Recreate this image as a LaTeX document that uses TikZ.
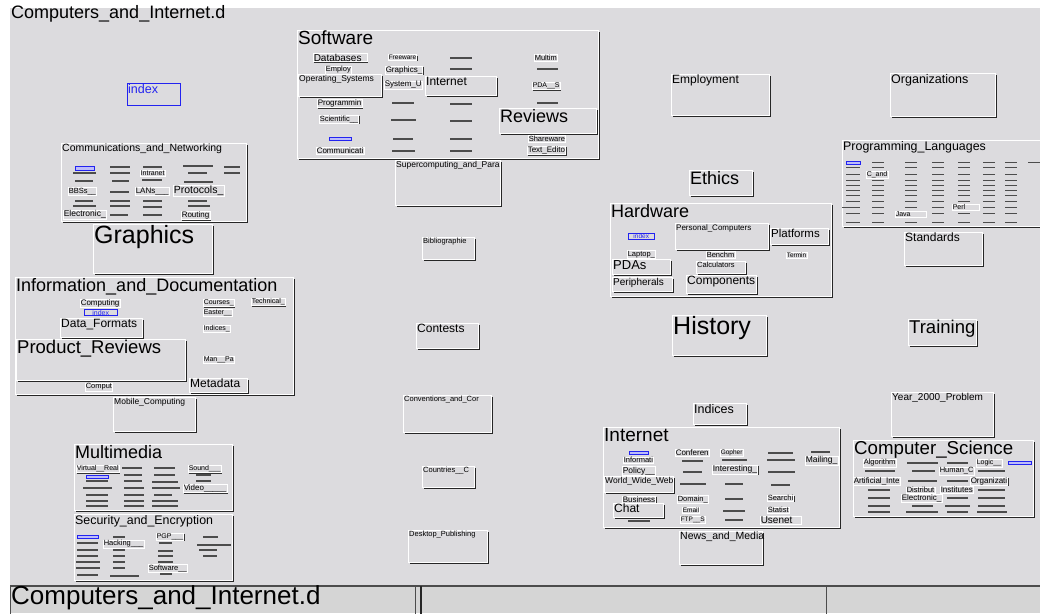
\documentclass[tikz,border=0pt]{standalone}
\usepackage{fontspec}
\setmainfont{Liberation Sans}
\usepackage{xcolor}
\usetikzlibrary{shadows}

\definecolor{deskgray}{RGB}{220,219,222}
\definecolor{bargray}{RGB}{213,213,213}
\definecolor{linkblue}{RGB}{35,35,240}
\newcommand\fsz[1]{\fontsize{#1}{#1}\selectfont}

\begin{document}
\begin{tikzpicture}[x=1pt, y=-1pt,
    panel/.style={rectangle, draw=white, fill=deskgray, line width=0.8pt, inner sep=0pt,
        general shadow={fill=black!85, shadow xshift=1.4pt, shadow yshift=-1.4pt}},
    sz/.style 2 args={minimum width=#1pt, minimum height=#2pt, anchor=north west},
    ttl/.style={anchor=north west, inner sep=1pt, text=black},
    mini/.style={rectangle, anchor=west, draw=white, fill=deskgray, line width=0.5pt, inner sep=0.5pt,
        text=black, font=\fsz{7},
        general shadow={fill=black!80, shadow xshift=0.9pt, shadow yshift=-0.9pt}},
    wd/.style={text width=#1pt},
    bluemini/.style={mini, draw=linkblue, text=linkblue},
    blip/.style={draw=black!70, line width=1.3pt},
    bluebar/.style={draw=linkblue, fill=linkblue!30, line width=0.9pt}]

  \useasboundingbox (0,0) rectangle (1040,613);
  \fill[white] (0,0) rectangle (1040,613);
  \fill[deskgray] (10,8) rectangle (1040,586);
  \node[ttl, font=\fsz{18}] (title) at (10,4) {Computers\_and\_Internet.d};

  % left column
  \node[rectangle, draw=linkblue, line width=1pt, inner sep=0pt, sz={53}{22},
        label={[ttl, text=linkblue, font=\fsz{12.5}]north west:index}] (index) at (127,83) {};

  \node[panel, sz={185}{78}, label={[ttl, font=\fsz{10.5}]north west:Communications\_and\_Networking}] (comms) at (61,143) {};
  \draw[bluebar] (75,166) rectangle (94,170);
  \foreach \xa/\xb/\yy in {73/96/173, 75/93/181, 110/130/167, 110/130/173, 112/129/181,
      143/162/167, 142/162/180, 183/213/166, 188/207/173, 184/213/182, 224/240/167, 224/240/173,
      110/129/192, 75/93/201, 73/96/206, 110/130/201, 110/130/206, 143/162/201, 143/162/207,
      188/207/201, 188/210/206, 110/128/215, 143/162/215}
    \draw[blip] (\xa,\yy) -- (\xb,\yy);
  \node[mini] (intranet) at (140,173) {Intranet};
  \node[mini, font=\fsz{7.5}] (bbss) at (68,191.5) {BBSs\_\_};
  \node[mini, font=\fsz{8}] (lans) at (135,191.5) {LANs\_\_\_};
  \node[mini, font=\fsz{10.5}] (protocols) at (173,190.5) {Protocols\_};
  \node[mini, font=\fsz{8.5}] (electronic) at (63,214.5) {Electronic\_};
  \node[mini, font=\fsz{8}] (routing) at (181,215.5) {Routing};

  \node[panel, sz={119}{49}, label={[ttl, font=\fsz{25}]north west:Graphics}] (graphics) at (93,224) {};

  \node[panel, sz={278}{117}, label={[ttl, font=\fsz{18}]north west:Information\_and\_Documentation}] (infodoc) at (15,277) {};
  \node[mini, font=\fsz{8}] (computing) at (80,303) {Computing};
  \node[bluemini, minimum width=33pt] (infoindex) at (84,312.5) {index};
  \node[panel, sz={82}{19}, label={[ttl, font=\fsz{12}]north west:Data\_Formats}] (dataformats) at (60,318) {};
  \node[panel, sz={169}{41}, label={[ttl, font=\fsz{18.5}]north west:Product\_Reviews}] (prodreviews) at (16,339) {};
  \node[mini, font=\fsz{7.5}] (comput) at (85,387) {Comput};
  \node[mini] (courses) at (203,303) {Courses\_};
  \node[mini] (technical) at (251,302) {Technical\_};
  \node[mini] (easter) at (203,312.5) {Easter\_\_};
  \node[mini] (indicesdoc) at (203,328.5) {Indices\_};
  \node[mini] (manpa) at (203,359.5) {Man\_\_Pa};
  \node[panel, sz={58}{14}, label={[ttl, font=\fsz{12}]north west:Metadata}] (metadata) at (189,378) {};

  \node[panel, sz={82}{34}, label={[ttl, font=\fsz{8.5}]north west:Mobile\_Computing}] (mobile) at (113,397) {};

  \node[panel, sz={158}{66}, label={[ttl, font=\fsz{18}]north west:Multimedia}] (multimedia) at (74,444) {};
  \draw[bluebar] (86,475) rectangle (108,478);
  \foreach \xa/\xb/\yy in {122/142/468, 154/175/468, 86/108/481, 124/142/475, 124/142/481,
      154/175/475, 152/178/482, 196/211/475, 196/211/481, 83/112/488, 124/144/488, 152/180/488,
      86/108/495, 124/144/495, 154/172/495, 86/108/501, 124/144/501, 152/178/501,
      86/108/506, 124/144/506, 152/178/506}
    \draw[blip] (\xa,\yy) -- (\xb,\yy);
  \node[mini] (virtualreal) at (76,469) {Virtual\_\_Real};
  \node[mini] (sound) at (188,469) {Sound\_\_\_};
  \node[mini, font=\fsz{8}] (video) at (183,488.5) {Video\_\_\_\_\_};

  \node[panel, sz={158}{66}, label={[ttl, font=\fsz{12.4}]north west:Security\_and\_Encryption}] (security) at (74,514) {};
  \draw[bluebar] (77,535) rectangle (98,538);
  \foreach \xa/\xb/\yy in {77/98/543, 113/125/537, 159/172/543, 203/218/537, 197/231/545,
      77/98/550, 77/98/556, 113/125/550, 113/125/556, 113/125/562, 158/173/551, 158/173/556,
      158/173/562, 199/217/550, 203/217/556, 76/100/562, 76/100/568, 113/125/568, 160/172/574,
      77/98/575, 110/139/576}
    \draw[blip] (\xa,\yy) -- (\xb,\yy);
  \node[mini, font=\fsz{7.5}] (hacking) at (103,544) {Hacking\_\_\_};
  \node[mini] (pgp) at (156,536.5) {PGP\_\_\_};
  \node[mini, font=\fsz{7.5}] (swsecurity) at (148,568.5) {Software\_\_};

  % middle column
  \node[panel, sz={301}{128}, label={[ttl, font=\fsz{19}]north west:Software}] (software) at (297,30) {};
  \node[mini, font=\fsz{10}, wd=53] (databases) at (313,57.5) {Databases};
  \node[mini, font=\fsz{7.5}] (employ) at (325,70) {Employ};
  \node[panel, sz={83}{22}, label={[ttl, font=\fsz{8.5}]north west:Operating\_Systems}] (opsys) at (298,74) {};
  \node[mini, font=\fsz{8}] (programmin) at (317,103.5) {Programmin};
  \node[mini, font=\fsz{7.5}] (scientific) at (319,119.5) {Scientific\_\_};
  \draw[bluebar] (329,137) rectangle (351,140);
  \node[mini, font=\fsz{8}] (communicati) at (316,150.5) {Communicati};
  \node[mini, font=\fsz{6.5}] (freeware) at (388,57.5) {Freeware};
  \node[mini, font=\fsz{8}] (swgraphics) at (385,70) {Graphics\_};
  \node[mini, font=\fsz{8}] (systemu) at (384,85) {System\_U};
  \foreach \xa/\xb/\yy in {392/414/103, 391/416/120, 393/413/139, 392/415/151,
      450/472/58, 450/472/69, 450/472/104, 450/472/121, 450/472/139, 450/472/151,
      537/558/69, 537/558/103}
    \draw[blip] (\xa,\yy) -- (\xb,\yy);
  \node[panel, sz={71}{19}, label={[ttl, font=\fsz{12}]north west:Internet}] (swinternet) at (425,76) {};
  \node[mini, font=\fsz{7.5}] (multim) at (534,58) {Multim};
  \node[mini] (pdas_sw) at (532,86) {PDA\_\_S};
  \node[panel, sz={97}{25}, label={[ttl, font=\fsz{18}]north west:Reviews}] (reviews) at (499,108) {};
  \node[mini, font=\fsz{7.5}] (shareware) at (528,138.5) {Shareware};
  \node[mini, font=\fsz{8}] (texteditors) at (527,150.5) {Text\_Edito};

  \node[panel, sz={105}{45}, label={[ttl, font=\fsz{8.5}]north west:Supercomputing\_and\_Para}] (supercomp) at (395,160) {};
  \node[panel, sz={52}{22}, label={[ttl, font=\fsz{7.5}]north west:Bibliographie}] (biblio) at (422,237) {};
  \node[panel, sz={62}{25}, label={[ttl, font=\fsz{12}]north west:Contests}] (contests) at (416,323) {};
  \node[panel, sz={88}{37}, label={[ttl, font=\fsz{7.5}]north west:Conventions\_and\_Cor}] (conventions) at (403,395) {};
  \node[panel, sz={52}{21}, label={[ttl, font=\fsz{7.5}]north west:Countries\_\_C}] (countries) at (422,466) {};
  \node[panel, sz={79}{32}, label={[ttl, font=\fsz{7.5}]north west:Desktop\_Publishing}] (desktop) at (408,530) {};

  % right part
  \node[panel, sz={98}{41}, label={[ttl, font=\fsz{12}]north west:Employment}] (employment) at (671,74) {};
  \node[panel, sz={105}{43}, label={[ttl, font=\fsz{12.5}]north west:Organizations}] (organizations) at (890,73) {};
  \node[panel, sz={63}{25}, label={[ttl, font=\fsz{18}]north west:Ethics}] (ethics) at (689,170) {};

  \node[panel, sz={221}{93}, label={[ttl, font=\fsz{18}]north west:Hardware}] (hardware) at (610,203) {};
  \node[bluemini, font=\fsz{6.5}, minimum width=26pt] (hwindex) at (628,236) {index};
  \node[panel, sz={93}{26}, label={[ttl, font=\fsz{8}]north west:Personal\_Computers}] (personal) at (675,223) {};
  \node[panel, sz={58}{16}, label={[ttl, font=\fsz{11.5}]north west:Platforms}] (platforms) at (770,228) {};
  \node[mini, font=\fsz{7.5}] (laptop) at (627,254.5) {Laptop\_};
  \node[mini, font=\fsz{7.5}] (benchm) at (706,254.5) {Benchm};
  \node[mini, font=\fsz{6.5}] (termin) at (786,255) {Termin};
  \node[panel, sz={58}{15}, label={[ttl, font=\fsz{13}]north west:PDAs}] (pdas) at (612,259) {};
  \node[panel, sz={49}{12}, label={[ttl, font=\fsz{7.5}]north west:Calculators}] (calculators) at (696,261) {};
  \node[panel, sz={60}{14}, label={[ttl, font=\fsz{10}]north west:Peripherals}] (peripherals) at (612,277) {};
  \node[panel, sz={70}{18}, label={[ttl, font=\fsz{12}]north west:Components}] (components) at (686,275) {};

  \node[panel, sz={200}{86}, label={[ttl, font=\fsz{12.4}]north west:Programming\_Languages}] (proglang) at (842,140) {};
  \draw[bluebar] (846,161) rectangle (860,164);
  \foreach \xa in {905,932,958,983,1005}
    \foreach \yy in {162,167,174,180,185,190,195,201,207,213,222}
      \draw[blip, line width=0.9pt] (\xa,\yy) -- ++(12,0);
  \foreach \yy in {167,174,180,185,190,195,201,213,222}
    \draw[blip, line width=0.9pt] (846,\yy) -- ++(14,0);
  \foreach \yy in {162,167,180,185,190,195,201,207,213,222}
    \draw[blip, line width=0.9pt] (872,\yy) -- ++(12,0);
  \draw[blip, line width=0.9pt] (842,207) -- (860,207);
  \draw[blip, line width=0.9pt] (1028,162) -- (1040,162);
  \node[mini] (cand) at (866,174.5) {C\_and};
  \node[mini, wd=26] (perl) at (952,207) {Perl};
  \node[mini, wd=30] (java) at (895,214) {Java};
  \node[panel, sz={78}{33}, label={[ttl, font=\fsz{12}]north west:Standards}] (standards) at (904,232) {};

  \node[panel, sz={94}{40}, label={[ttl, font=\fsz{25}]north west:History}] (history) at (672,315) {};
  \node[panel, sz={68}{26}, label={[ttl, font=\fsz{18.5}]north west:Training}] (training) at (908,319) {};
  \node[panel, sz={53}{21}, label={[ttl, font=\fsz{12.5}]north west:Indices}] (indices) at (693,403) {};
  \node[panel, sz={102}{44}, label={[ttl, font=\fsz{10}]north west:Year\_2000\_Problem}] (ytwok) at (891,392) {};

  \node[panel, sz={236}{100}, label={[ttl, font=\fsz{19}]north west:Internet}] (internet) at (603,427) {};
  \draw[bluebar] (629,451) rectangle (648,454);
  \foreach \xa/\xb/\yy in {682/703/461, 683/702/472, 680/706/484, 722/747/460, 725/743/484,
      725/743/499, 723/745/511, 725/743/520, 768/793/453, 767/795/460, 768/795/472,
      771/790/485, 811/830/452, 628/650/521}
    \draw[blip] (\xa,\yy) -- (\xb,\yy);
  \node[mini, font=\fsz{7.5}] (informati) at (623,460) {Informati};
  \node[mini, font=\fsz{8.5}] (policy) at (622,471) {Policy\_\_};
  \node[panel, sz={69}{16}, label={[ttl, font=\fsz{8.5}]north west:World\_Wide\_Web}] (www) at (604,476) {};
  \node[mini, font=\fsz{8}] (business) at (622,499.5) {Business};
  \node[panel, sz={50}{14}, label={[ttl, font=\fsz{12}]north west:Chat}] (chat) at (613,503) {};
  \node[mini, font=\fsz{8}] (conferen) at (675,452.5) {Conferen};
  \node[mini, font=\fsz{7.5}] (domain) at (677,499.5) {Domain\_};
  \node[mini, font=\fsz{6.5}] (email) at (682,510) {Email};
  \node[mini, font=\fsz{6.5}] (ftps) at (680,520) {FTP\_\_S};
  \node[mini, font=\fsz{6.5}] (gopher) at (720,453) {Gopher};
  \node[mini, font=\fsz{8.5}] (interesting) at (712,469.5) {Interesting\_};
  \node[mini, font=\fsz{7.5}] (searchi) at (767,498) {Searchi};
  \node[mini, font=\fsz{7.5}] (statist) at (767,510) {Statist};
  \node[mini, font=\fsz{10}, wd=40] (usenet) at (760,520) {Usenet};
  \node[mini, font=\fsz{8.5}] (mailing) at (805,460.5) {Mailing\_};
  \node[panel, sz={83}{33}, label={[ttl, font=\fsz{10.5}]north west:News\_and\_Media}] (news) at (679,531) {};

  \node[panel, sz={180}{76}, label={[ttl, font=\fsz{18.7}]north west:Computer\_Science}] (compsci) at (853,440) {};
  \foreach \xa/\xb/\yy in {907/938/463, 947/968/463, 865/895/471, 912/935/471, 978/1005/471,
      908/937/481, 947/968/481, 868/890/490, 978/1005/490, 868/890/498, 947/968/498,
      978/1005/498, 868/890/506, 912/933/506, 945/970/506, 978/1005/506, 868/890/512,
      906/938/512, 947/968/512, 977/1007/512}
    \draw[blip] (\xa,\yy) -- (\xb,\yy);
  \draw[bluebar] (1008,461) rectangle (1031,464);
  \node[mini, font=\fsz{7.5}] (algorithm) at (863,463) {Algorithm};
  \node[mini] (logic) at (976,463) {Logic\_\_};
  \node[mini, font=\fsz{7.5}] (humanc) at (939,471) {Human\_C};
  \node[mini, font=\fsz{8}] (artificial) at (853,481) {Artificial\_Inte};
  \node[mini, font=\fsz{8}] (organizati) at (970,481) {Organizati};
  \node[mini, font=\fsz{7.5}] (distribut) at (906,490) {Distribut};
  \node[mini, font=\fsz{8}] (institutes) at (940,490) {Institutes};
  \node[mini, font=\fsz{8}] (cselectronic) at (901,498) {Electronic\_};

  % status bar
  \fill[bargray] (10,586) rectangle (1040,613);
  \draw[black!70, line width=1.6pt] (10,586) -- (1040,586);
  \node[rectangle, draw=black!70, line width=1pt, sz={405}{28},
        label={[ttl, font=\fsz{26}, yshift=2pt]north west:Computers\_and\_Internet.d}] (pathbar) at (10,586) {};
  \node[rectangle, draw=black!70, line width=1pt, sz={405}{28}] (statusbar) at (421,586) {};
  \draw[black!85, line width=1.6pt] (statusbar.north west) -- (statusbar.south west);
\end{tikzpicture}
\end{document}
